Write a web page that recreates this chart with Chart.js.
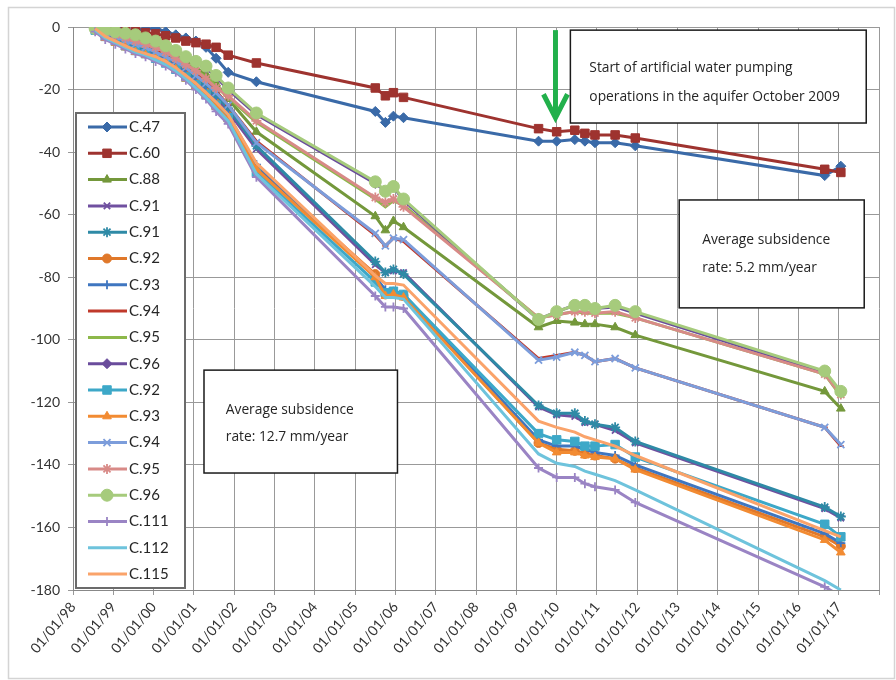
<!DOCTYPE html>
<html>
<head>
<meta charset="utf-8">
<script src="https://cdn.jsdelivr.net/npm/chart.js@4.4.1/dist/chart.umd.min.js"></script>
<style>
  html, body { margin: 0; padding: 0; background: #fff; }
</style>
</head>
<body>
<canvas id="chart" width="896" height="680"></canvas>
<script>
// measurement dates, decimal years
const dates = [1998.55, 1998.8, 1999.05, 1999.3, 1999.55, 1999.8, 2000.05, 2000.3, 2000.55, 2000.8, 2001.05, 2001.3, 2001.55, 2001.85,
  2002.55, 2005.5, 2005.75, 2005.95, 2006.2, 2009.55, 2010.0, 2010.45, 2010.7, 2010.95, 2011.45, 2011.95, 2016.65, 2017.05];

// subsidence (mm) per benchmark
const c47 = [0, -0.5, -0.3, -0.8, -1, -0.6, -0.5, -1.5, -2.5, -3.5, -4.5, -6.5, -10, -14.5,
  -17.5, -27, -30.5, -28.5, -29, -36.5, -36.5, -36, -36.5, -37, -37, -38, -47.5, -44.5];
const c60 = [0, -0.3, -0.8, -1, -1.5, -1.8, -2.2, -2.8, -3.5, -4.5, -5, -5.5, -6.5, -9,
  -11.5, -19.5, -22, -21, -22.5, -32.5, -33.5, -33, -34, -34.5, -34.5, -35.5, -45.5, -46.5];
const c88 = [-0.5, -1.5, -2.5, -3, -4, -5, -6, -7.5, -9, -11, -13, -15, -18, -23,
  -33.5, -60.5, -65, -62, -64, -96, -94, -94.5, -95, -95, -96, -98.5, -116.5, -122];
const c91a = [-1, -3, -4.5, -5.5, -7, -8, -9, -10.5, -12.5, -14.5, -17, -20, -23, -27,
  -39, -76, -78.5, -78, -78.5, -121.5, -124, -124.5, -126.5, -127, -129, -133, -154, -157];
const c91b = [-0.5, -2.5, -4, -5, -6.5, -7.5, -8.5, -10, -12, -14, -16.5, -19, -22, -26,
  -38, -75, -78.5, -77.5, -79, -121, -123.5, -123.5, -126, -127, -128, -132.5, -153.5, -156.5];
const c92a = [-1, -3, -4.5, -6, -7.5, -8.5, -9.5, -11, -13, -15.5, -18, -21, -24.5, -28.5,
  -45, -79, -85.5, -85, -86, -133, -135, -135.5, -136.5, -137, -138, -141, -163, -166];
const c93a = [-0.5, -2.5, -4, -5.5, -7, -8, -9, -10.5, -12.5, -15, -17.5, -20.5, -24, -28,
  -44, -80, -84, -84.5, -85.5, -132, -134, -134, -135, -136, -137, -140, -162, -165];
const c94a = [-0.5, -2, -3, -4, -5.5, -6.5, -7.5, -9, -11, -13, -15, -17.5, -20.5, -25,
  -36.5, -66.5, -70, -67.5, -68.5, -106, -105, -104, -105, -107, -106, -109, -128, -134];
const c95a = [-0.5, -1.5, -2.5, -3.5, -4.5, -5.5, -6.5, -8, -10, -12, -14, -16, -19, -22.5,
  -30.5, -55, -57.5, -55.5, -57, -93, -92, -91, -91.5, -91.5, -91.5, -93, -111, -118];
const c96a = [-0.5, -1, -1.5, -2.5, -3, -3.5, -4.5, -6, -7.5, -9.5, -11.5, -13, -16, -20,
  -28, -50, -52.5, -51, -55.5, -93.5, -91, -89, -89, -90, -89.5, -91.5, -110.5, -117];
const c92b = [-1, -3, -4.5, -6, -7.5, -8.5, -10, -11.5, -13.5, -16, -18.5, -21.5, -25, -29,
  -46.5, -81.5, -85, -84.5, -85.5, -130, -132, -132.5, -134, -134, -133.5, -137.5, -159, -163];
const c93b = [-1, -3.5, -5, -6.5, -8, -9, -10, -11.5, -13.5, -16.5, -19, -22, -25.5, -29.5,
  -45.5, -80, -86, -85.5, -86.5, -133, -136, -136, -137, -137.5, -138, -141.5, -164, -168];
const c94b = [-0.5, -2, -3, -4.5, -5.5, -6.5, -8, -9.5, -11, -13, -15.5, -18, -21, -25,
  -37, -66, -70, -67.5, -68, -106.5, -105.5, -104, -105, -107, -106, -109, -128, -133.5];
const c95b = [-0.5, -1.5, -2.5, -3.5, -4.5, -5.5, -6.5, -8, -10, -12, -14, -16.5, -19.5, -22,
  -30, -54.5, -56, -55, -57.5, -93, -92, -91, -91, -91.5, -91, -93, -111, -117.5];
const c96b = [-0.5, -1, -1.5, -2, -2.5, -3.5, -4.5, -6, -7.5, -9.5, -11, -12.5, -15.5, -19.5,
  -27.5, -49.5, -52.5, -51, -55, -93.5, -91, -89, -89, -90, -89, -91, -110, -116.5];
const c111 = [-1.5, -4, -5.5, -7, -8.5, -9.5, -11, -12.5, -14.5, -17, -20, -23, -27, -31,
  -48, -86, -89.5, -89.5, -90, -141, -144, -144, -146, -147, -148, -152, -179, -182];
const c112 = [-1, -3.5, -5, -6.5, -8, -9, -10.5, -12, -14, -16.5, -19.5, -22.5, -26, -30,
  -47, -83, -86.5, -86.5, -87, -136.5, -139.5, -140.5, -142, -143, -145, -148, -177, -180];
const c115 = [-0.5, -3, -4.5, -6, -7.5, -8.5, -9.5, -11, -13, -15.5, -18, -21, -24, -28,
  -43.5, -79.5, -82, -82, -82.5, -126, -128, -129.5, -131, -132, -134, -137, -161, -163];

const xTickYears = [1998, 1999, 2000, 2001, 2002, 2003, 2004, 2005, 2006, 2007, 2008, 2009,
  2010, 2011, 2012, 2013, 2014, 2015, 2016, 2017, 2018];
const xTickLabels = ['01/01/98', '01/01/99', '01/01/00', '01/01/01', '01/01/02', '01/01/03', '01/01/04',
  '01/01/05', '01/01/06', '01/01/07', '01/01/08', '01/01/09', '01/01/10', '01/01/11', '01/01/12',
  '01/01/13', '01/01/14', '01/01/15', '01/01/16', '01/01/17', ''];

// label, values, colour, marker, marker radius
const series = [
  ['C.47', c47, '#3A6AA8', 'rectRot', 5],
  ['C.60', c60, '#9E332F', 'rect', 6],
  ['C.88', c88, '#74983B', 'triangle', 5],
  ['C.91', c91a, '#7050A0', 'crossRot', 4.5],
  ['C.91', c91b, '#2E8AA6', 'star', 5],
  ['C.92', c92a, '#E0782A', 'circle', 4.5],
  ['C.93', c93a, '#3F76C0', 'cross', 4.5],
  ['C.94', c94a, '#C0392B', 'line', 3],
  ['C.95', c95a, '#8DB84A', false, 0],
  ['C.96', c96a, '#6A4C9C', 'rectRot', 5],
  ['C.92', c92b, '#3DA8C8', 'rect', 6],
  ['C.93', c93b, '#F28B32', 'triangle', 5],
  ['C.94', c94b, '#7C9DDB', 'crossRot', 5],
  ['C.95', c95b, '#D88A87', 'star', 5],
  ['C.96', c96b, '#A6CB7C', 'circle', 6],
  ['C.111', c111, '#9A84C4', 'cross', 4.5],
  ['C.112', c112, '#6EC3DC', false, 0],
  ['C.115', c115, '#FAA36A', false, 0]
];

const notes = [
  { x0: 2010.34, x1: 2017.68, y0: -1, y1: -30.7, tx: 2010.81,
    lines: [['Start of artificial water pumping', -13.1], ['operations in the aquifer October 2009', -22.4]] },
  { x0: 2013.04, x1: 2017.63, y0: -55.3, y1: -89.8, tx: 2013.61,
    lines: [['Average subsidence', -68.1], ['rate: 5.2 mm/year', -77]] },
  { x0: 2001.25, x1: 2006.05, y0: -109.7, y1: -142.6, tx: 2001.79,
    lines: [['Average subsidence', -122.4], ['rate: 12.7 mm/year', -131]] }
];
const arrow = { x: 2009.97, yTop: -1, yHead: -21.5, yTip: -29 };

const datasets = series.map(([label, vals, color, marker, r], i) => ({
  label,
  data: dates.map((d, k) => ({ x: d, y: vals[k] })),
  borderColor: color,
  backgroundColor: color,
  borderWidth: 3,
  pointStyle: marker,
  pointRadius: r,
  pointBackgroundColor: color,
  pointBorderColor: color,
  pointBorderWidth: (marker === 'cross' || marker === 'crossRot' || marker === 'star' || marker === 'line') ? 1.8 : 1,
  tension: 0,
  order: series.length - i
}));

const frame = {
  id: 'frame',
  beforeDraw(chart) {
    const ctx = chart.ctx;
    ctx.save();
    ctx.fillStyle = '#fff';
    ctx.fillRect(0, 0, chart.width, chart.height);
    ctx.strokeStyle = '#d4d4d4';
    ctx.lineWidth = 1.5;
    ctx.strokeRect(8.5, 7.5, 886, 671);
    ctx.restore();
  }
};

const overlay = {
  id: 'overlay',
  afterDatasetsDraw(chart) {
    const { ctx, scales: { x, y } } = chart;
    ctx.save();

    // pumping arrow
    const ax = x.getPixelForValue(arrow.x);
    ctx.strokeStyle = '#22B04B';
    ctx.lineWidth = 5;
    ctx.beginPath();
    ctx.moveTo(ax, y.getPixelForValue(arrow.yTop));
    ctx.lineTo(ax, y.getPixelForValue(arrow.yTip) - 3);
    ctx.stroke();
    ctx.lineJoin = 'miter';
    ctx.beginPath();
    ctx.moveTo(ax - 12, y.getPixelForValue(arrow.yHead));
    ctx.lineTo(ax, y.getPixelForValue(arrow.yTip));
    ctx.lineTo(ax + 12, y.getPixelForValue(arrow.yHead));
    ctx.stroke();

    // text boxes
    notes.forEach(n => {
      const l = x.getPixelForValue(n.x0), r = x.getPixelForValue(n.x1);
      const t = y.getPixelForValue(n.y0), b = y.getPixelForValue(n.y1);
      ctx.fillStyle = '#fff';
      ctx.fillRect(l, t, r - l, b - t);
      ctx.strokeStyle = '#1a1a1a';
      ctx.lineWidth = 1.5;
      ctx.strokeRect(l, t, r - l, b - t);
      ctx.fillStyle = '#262626';
      ctx.font = '13.8px "Open Sans"';
      ctx.textBaseline = 'middle';
      n.lines.forEach(([s, v]) => ctx.fillText(s, x.getPixelForValue(n.tx), y.getPixelForValue(v)));
    });

    // legend inside the plot
    ctx.fillStyle = '#fff';
    ctx.fillRect(76, 113, 109, 475);
    ctx.strokeStyle = '#6b6b6b';
    ctx.lineWidth = 2;
    ctx.strokeRect(76, 113, 109, 475);
    chart.data.datasets.forEach((ds, i) => {
      const ly = 127 + i * 26.3;
      ctx.strokeStyle = ds.borderColor;
      ctx.lineWidth = 3;
      ctx.beginPath();
      ctx.moveTo(88, ly);
      ctx.lineTo(127, ly);
      ctx.stroke();
      if (ds.pointStyle && ds.pointStyle !== 'line') {
        ctx.fillStyle = ds.pointBackgroundColor;
        ctx.strokeStyle = ds.pointBorderColor;
        ctx.lineWidth = ds.pointBorderWidth;
        Chart.helpers.drawPoint(ctx, { pointStyle: ds.pointStyle, radius: ds.pointRadius, rotation: 0, borderWidth: ds.pointBorderWidth }, 107, ly);
      }
      ctx.fillStyle = '#262626';
      ctx.font = '15px Lato';
      ctx.textBaseline = 'middle';
      ctx.fillText(ds.label, 129, ly);
    });
    ctx.restore();
  }
};

new Chart(document.getElementById('chart'), {
  type: 'line',
  data: { datasets },
  options: {
    responsive: false,
    animation: false,
    devicePixelRatio: 1,
    layout: { padding: { left: 0, right: 16, top: 27, bottom: 0 } },
    plugins: { legend: { display: false }, tooltip: { enabled: false } },
    scales: {
      x: {
        type: 'linear',
        min: 1998,
        max: 2018,
        afterBuildTicks: s => { s.ticks = xTickYears.map(v => ({ value: v })); },
        afterFit: s => { s.height = 90; },
        ticks: {
          autoSkip: false,
          minRotation: 50,
          maxRotation: 50,
          color: '#333',
          padding: 4,
          font: { family: 'Lato', size: 14 },
          callback: v => xTickLabels[xTickYears.indexOf(v)]
        },
        grid: { color: '#999', lineWidth: 1, tickLength: 5 },
        border: { color: '#888', width: 1 }
      },
      y: {
        min: -180,
        max: 0,
        afterFit: s => { s.width = 73; },
        ticks: {
          stepSize: 20,
          color: '#333',
          padding: 8,
          font: { family: 'Lato', size: 14 }
        },
        grid: { color: '#999', lineWidth: 1, tickLength: 5 },
        border: { color: '#888', width: 1 }
      }
    }
  },
  plugins: [frame, overlay]
});
</script>
</body>
</html>
